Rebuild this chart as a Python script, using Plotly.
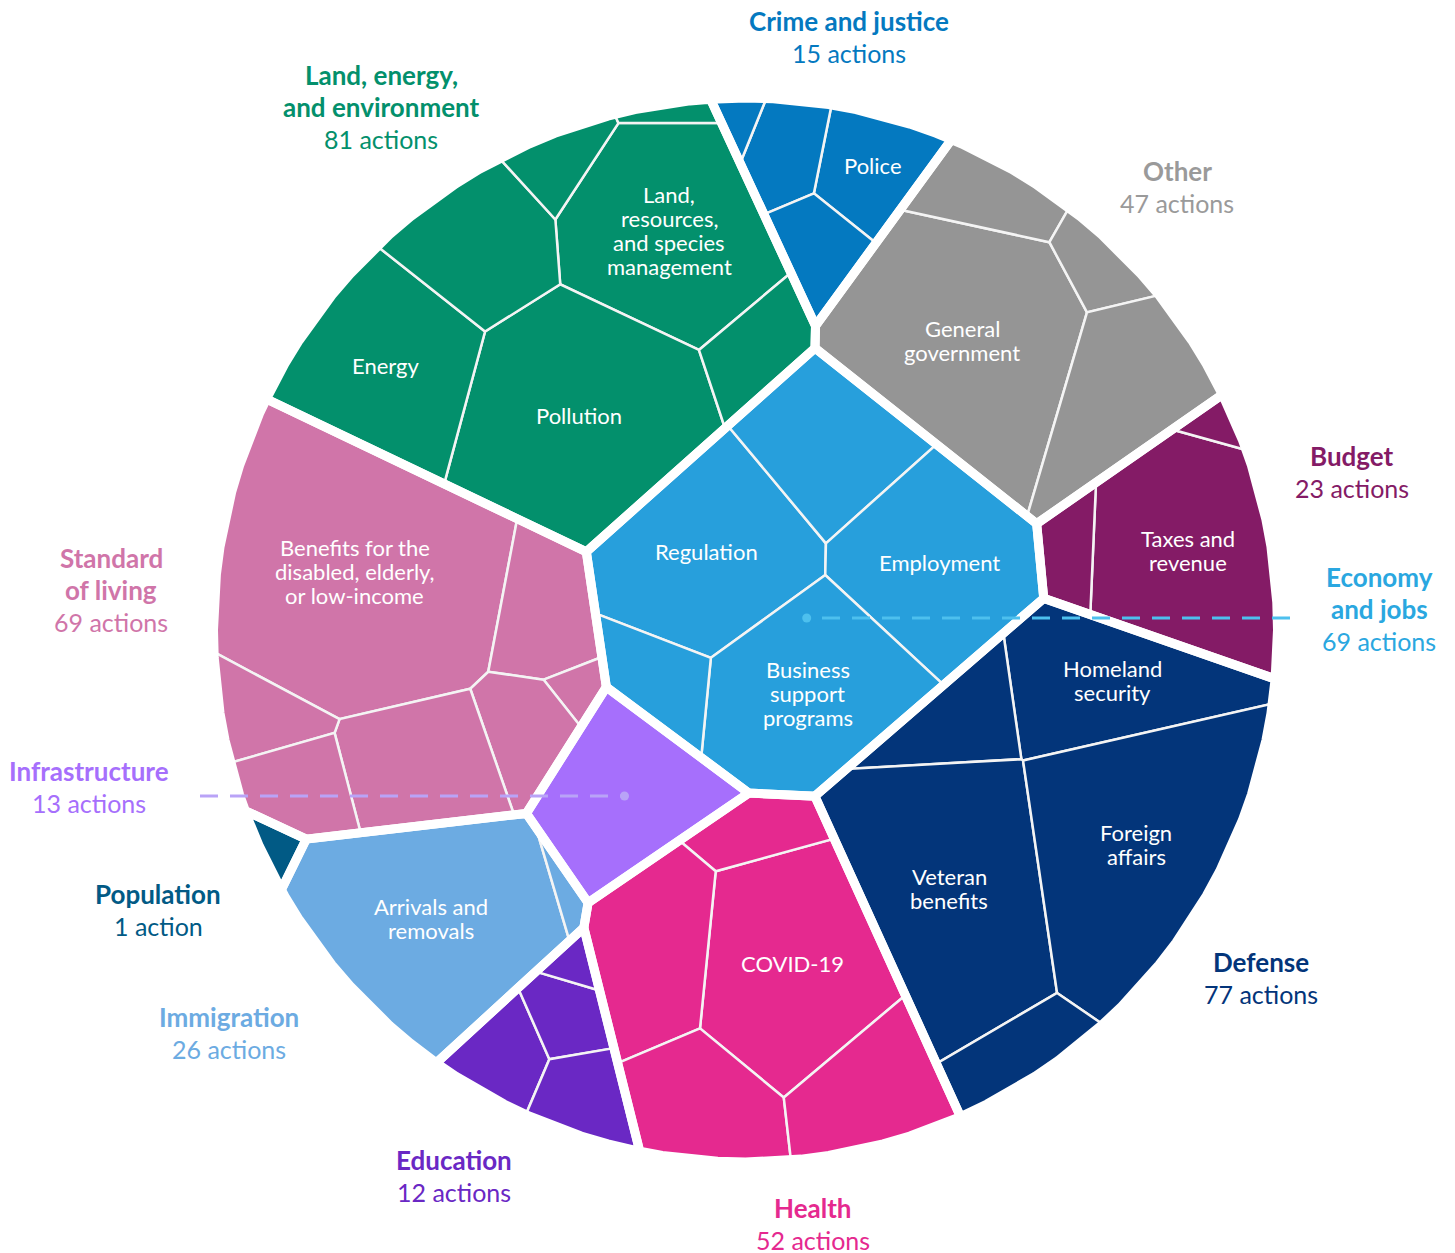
import numpy as np
import plotly.graph_objects as go

# ---------------- data ----------------
categories = ["Crime and justice", "Other", "Budget", "Economy and jobs", "Defense",
              "Health", "Education", "Immigration", "Population", "Infrastructure",
              "Standard of living", "Land, energy, and environment"]
headlines = ["Crime and justice", "Other", "Budget", "Economy<br>and jobs", "Defense",
             "Health", "Education", "Immigration", "Population", "Infrastructure",
             "Standard<br>of living", "Land, energy,<br>and environment"]

crime_subs = ["Police", "", "", ""]
crime_counts = [6, 4, 4, 1]
other_subs = ["General<br>government", "", "", ""]
other_counts = [27, 5, 3, 12]
budget_subs = ["Taxes and<br>revenue", "", ""]
budget_counts = [19, 3, 1]
economy_subs = ["Regulation", "", "Employment", "Business<br>support<br>programs", ""]
economy_counts = [18, 11, 17, 18, 5]
defense_subs = ["Homeland<br>security", "", "Veteran<br>benefits", "Foreign<br>affairs", ""]
defense_counts = [14, 6, 26, 26, 5]
health_subs = ["COVID-19", "", "", "", ""]
health_counts = [19, 4, 11, 9, 9]
education_subs = ["", "", "", ""]
education_counts = [4, 3, 1, 4]
immigration_subs = ["Arrivals and<br>removals", ""]
immigration_counts = [25, 1]
population_subs = [""]
population_counts = [1]
infrastructure_subs = [""]
infrastructure_counts = [13]
living_subs = ["Benefits for the<br>disabled, elderly,<br>or low-income", "", "", "", "", "", ""]
living_counts = [37, 7, 1, 5, 10, 4, 5]
land_subs = ["Land,<br>resources,<br>and species<br>management", "Pollution", "Energy", "", "", "", ""]
land_counts = [20, 26, 16, 10, 3, 1, 5]

sub_names = [crime_subs, other_subs, budget_subs, economy_subs, defense_subs, health_subs,
             education_subs, immigration_subs, population_subs, infrastructure_subs,
             living_subs, land_subs]
sub_counts = [crime_counts, other_counts, budget_counts, economy_counts, defense_counts,
              health_counts, education_counts, immigration_counts, population_counts,
              infrastructure_counts, living_counts, land_counts]

# ---------------- styling / layout ----------------
cell_colors = ["#0479C0", "#959595", "#841B66", "#279FDC", "#03357A", "#E5298F",
               "#6A28C4", "#6CABE2", "#015A85", "#A66FFC", "#D075A9", "#03906C"]
label_colors = ["#0479C0", "#9A9A9A", "#841B66", "#2AA7E0", "#03357A", "#E5298F",
                "#6A28C4", "#6CABE2", "#015A85", "#A66FFC", "#D075A9", "#03906C"]

W, H = 1455, 1253
PAGE_PAD = 8  # default body margin of the html page
CX, CY, RAD = 745.5, 630.0, 532.0
FONT = "Source Sans Pro, Lato, sans-serif"

# site positions for the layout (pixel space), one per category / sub cell
top_seeds = [(820, 175), (1005, 310), (1165, 540), (795, 575), (1050, 870), (775, 995),
             (535, 1055), (425, 935), (283, 865), (635, 790), (390, 635), (550, 300)]
sub_seeds = [
    [(885, 160), (785, 140), (825, 235), (728, 117)],
    [(955, 330), (985, 192), (1095, 255), (1125, 380)],
    [(1180, 555), (1065, 550), (1218, 418)],
    [(690, 555), (822, 445), (925, 560), (795, 700), (640, 685)],
    [(1110, 700), (935, 725), (945, 905), (1150, 875), (1030, 1050)],
    [(805, 990), (765, 845), (655, 975), (710, 1105), (885, 1085)],
    [(485, 1055), (560, 1022), (573, 978), (572, 1092)],
    [(430, 935), (572, 893)],
    [(283, 865)],
    [(635, 790)],
    [(350, 570), (535, 605), (572, 700), (515, 745), (400, 785), (262, 735), (285, 815)],
    [(655, 230), (565, 420), (360, 365), (455, 245), (548, 160), (655, 113), (760, 355)],
]
label_xy = [(849, 38), (1177, 188), (1352, 473), (1379, 610), (1261, 979), (813, 1225),
            (454, 1177), (229, 1034), (158, 911), (89, 788), (111, 591), (381, 108)]
leaders = {3: (1290, "#4DC0EE"), 9: (200, "#B9A3F7")}


# ---------------- voronoi treemap ----------------
def clip(poly, a, b, c):
    out = []
    n = len(poly)
    for k in range(n):
        px, py = poly[k]
        qx, qy = poly[(k + 1) % n]
        fp = a * px + b * py - c
        fq = a * qx + b * qy - c
        if fp <= 0:
            out.append((px, py))
        if (fp < 0 < fq) or (fq < 0 < fp):
            t = fp / (fp - fq)
            out.append((px + t * (qx - px), py + t * (qy - py)))
    return out


def area(poly):
    if len(poly) < 3:
        return 0.0
    s = 0.0
    for k in range(len(poly)):
        x0, y0 = poly[k]
        x1, y1 = poly[(k + 1) % len(poly)]
        s += x0 * y1 - x1 * y0
    return abs(s) / 2


def centroid(poly):
    s = cx = cy = 0.0
    for k in range(len(poly)):
        x0, y0 = poly[k]
        x1, y1 = poly[(k + 1) % len(poly)]
        cr = x0 * y1 - x1 * y0
        s += cr
        cx += (x0 + x1) * cr
        cy += (y0 + y1) * cr
    if abs(s) < 1e-9:
        return np.mean(np.array(poly), axis=0)
    return np.array([cx / (3 * s), cy / (3 * s)])


def inside(poly, p):
    sgn = 0
    for k in range(len(poly)):
        x0, y0 = poly[k]
        x1, y1 = poly[(k + 1) % len(poly)]
        cr = (x1 - x0) * (p[1] - y0) - (y1 - y0) * (p[0] - x0)
        if abs(cr) > 1e-9:
            s = 1 if cr > 0 else -1
            if sgn == 0:
                sgn = s
            elif s != sgn:
                return False
    return True


def power_cells(region, pts, w):
    n = len(pts)
    cells = []
    for i in range(n):
        order = np.argsort(((pts - pts[i]) ** 2).sum(axis=1))
        poly = region
        for j in order:
            if j == i:
                continue
            a = 2 * (pts[j][0] - pts[i][0])
            b = 2 * (pts[j][1] - pts[i][1])
            c = (pts[j] ** 2).sum() - (pts[i] ** 2).sum() - w[j] + w[i]
            poly = clip(poly, a, b, c)
            if len(poly) < 3:
                poly = []
                break
        cells.append(poly)
    return cells


def fix_overweight(pts, w):
    for _ in range(200):
        changed = False
        for i in range(len(w)):
            for j in range(i + 1, len(w)):
                d2 = ((pts[i] - pts[j]) ** 2).sum()
                hi, lo = (i, j) if w[i] > w[j] else (j, i)
                if d2 < w[hi] - w[lo]:
                    w[hi] = w[lo] + d2 * 0.999
                    changed = True
        if not changed:
            break


def voronoi_treemap(region, values, seeds, iters=700):
    # sites stay put, only the power weights adapt until areas match the counts
    values = np.array(values, float)
    n = len(values)
    if n == 1:
        return [region]
    A = area(region)
    target = values / values.sum() * A
    c0 = centroid(region)
    pts = []
    for s in seeds:
        p = np.array(s, float)
        while not inside(region, p):
            p = c0 + 0.85 * (p - c0)
        pts.append(p)
    pts = np.array(pts)
    w = np.full(n, A / n * 0.2)
    best = None
    for it in range(iters):
        cells = power_cells(region, pts, w)
        areas = np.array([area(c) for c in cells])
        err = np.abs(areas - target).sum() / A
        if best is None or err < best[0]:
            best = (err, cells)
        if np.max(np.abs(areas - target) / target) < 0.01:
            break
        step = 0.25 if it < 200 else 0.1
        ratio = np.clip(target / np.maximum(areas, 1e-6), 1 - step, 1 + step)
        w = np.maximum(w * ratio, 1e-6)
        fix_overweight(pts, w)
    return best[1]


theta = np.linspace(0, 2 * np.pi, 120, endpoint=False)
circle = [(CX + RAD * np.cos(t), CY + RAD * np.sin(t)) for t in theta]

totals = [sum(c) for c in sub_counts]
top_cells = voronoi_treemap(circle, totals, top_seeds)
sub_cells = [voronoi_treemap(top_cells[i], sub_counts[i], sub_seeds[i])
             for i in range(len(categories))]

# ---------------- figure ----------------
fig = go.Figure()
annotations = []


def closed(poly):
    xs = [p[0] for p in poly] + [poly[0][0]]
    ys = [p[1] for p in poly] + [poly[0][1]]
    return xs, ys


def text_block(lines, x, y, gap, fonts):
    y0 = y - gap * (len(lines) - 1) / 2
    for k, (ln, f) in enumerate(zip(lines, fonts)):
        annotations.append(dict(x=x, y=y0 + k * gap, text=ln, showarrow=False, yshift=1,
                                xanchor="center", yanchor="middle", font=f))


for i, cat in enumerate(categories):
    for name, cnt, cell in zip(sub_names[i], sub_counts[i], sub_cells[i]):
        if len(cell) < 3:
            continue
        xs, ys = closed(cell)
        fig.add_trace(go.Scatter(
            x=xs, y=ys, mode="lines", fill="toself", fillcolor=cell_colors[i],
            line=dict(color="#F4F4F4", width=2.5), hoverinfo="text",
            text=f"{cat}: {name.replace('<br>', ' ') or 'other'} ({cnt})", showlegend=False))
        if name:
            cx, cy = centroid(cell)
            lines = name.split("<br>")
            text_block(lines, cx, cy, 24,
                       [dict(family=FONT, size=22, color="white")] * len(lines))

for i, cell in enumerate(top_cells):
    if len(cell) < 3:
        continue
    xs, ys = closed(cell)
    fig.add_trace(go.Scatter(x=xs, y=ys, mode="lines", line=dict(color="white", width=9),
                             hoverinfo="skip", showlegend=False))

for i, cat in enumerate(categories):
    n = totals[i]
    lx, ly = label_xy[i]
    heads = ["<b>" + h + "</b>" for h in headlines[i].split("<br>")]
    lines = heads + [f"{n} action{'s' if n != 1 else ''}"]
    fonts = [dict(family=FONT, size=26, color=label_colors[i])] * len(heads) + \
            [dict(family=FONT, size=25, color=label_colors[i])]
    text_block(lines, lx, ly, 32, fonts)
    if i in leaders:
        end_x, lc = leaders[i]
        dot_x = centroid(top_cells[i])[0]
        yy = ly + 8
        fig.add_trace(go.Scatter(x=[end_x, dot_x], y=[yy, yy], mode="lines",
                                 line=dict(color=lc, width=3, dash="18px,12px"),
                                 hoverinfo="skip", showlegend=False))
        fig.add_trace(go.Scatter(x=[dot_x], y=[yy], mode="markers",
                                 marker=dict(color=lc, size=9),
                                 hoverinfo="skip", showlegend=False))

# the page body adds an 8px margin, so the axes start at 8 to keep pixel = data unit
fig.update_layout(
    width=W - PAGE_PAD, height=H - PAGE_PAD, margin=dict(l=0, r=0, t=0, b=0),
    paper_bgcolor="white", plot_bgcolor="white",
    xaxis=dict(range=[PAGE_PAD, W], visible=False),
    yaxis=dict(range=[H, PAGE_PAD], visible=False),
    annotations=annotations, showlegend=False,
)
fig.write_html("out.html")
